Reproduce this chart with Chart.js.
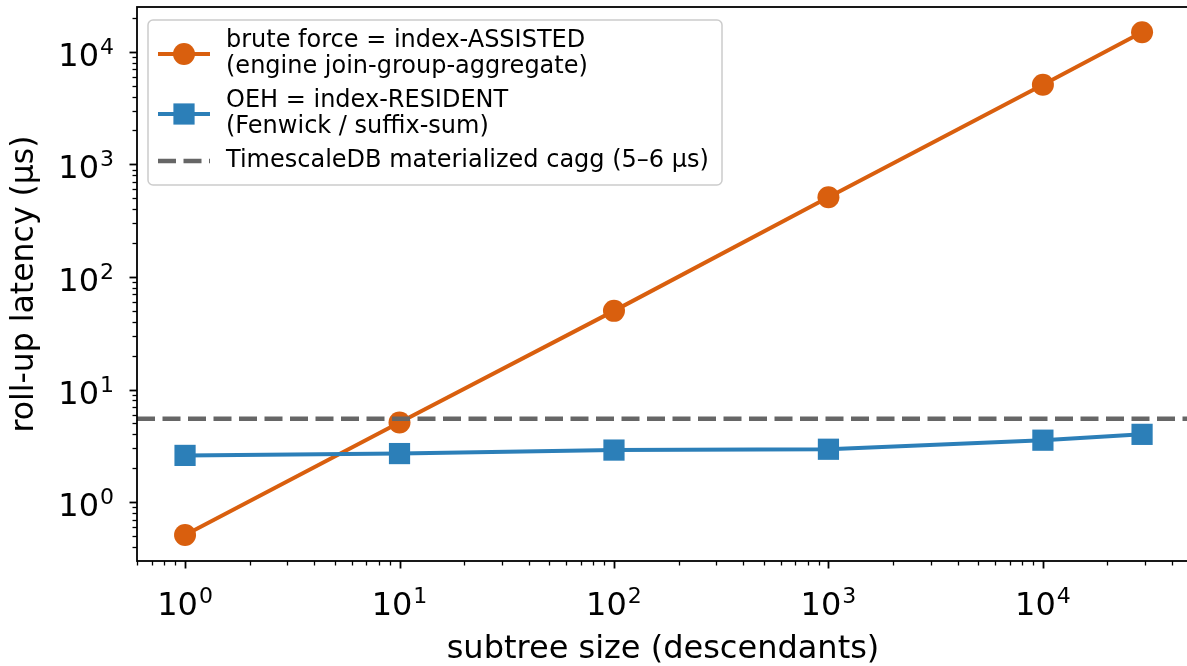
<!DOCTYPE html>
<html>
<head>
<meta charset="utf-8">
<title>roll-up latency vs subtree size</title>
<script src="https://cdn.jsdelivr.net/npm/chart.js@4.4.1/dist/chart.umd.min.js"></script>
<style>
  html, body { margin: 0; padding: 0; background: #fff; overflow: hidden; }
  #wrap { position: relative; width: 1190px; height: 666px; }
</style>
</head>
<body>
<div id="wrap"><canvas id="latencyChart"></canvas></div>
<script>
const subtreeSizes = [1, 10, 100, 1000, 10000, 29000];
const bruteForceUs = [0.51, 5.1, 50, 510, 5100, 14900];
const oehUs = [2.6, 2.7, 2.9, 2.95, 3.55, 4.0];
const caggUs = 5.5;

const seriesLabels = [
  'brute force = index-ASSISTED\n(engine join-group-aggregate)',
  'OEH = index-RESIDENT\n(Fenwick / suffix-sum)',
  'TimescaleDB materialized cagg (5–6 µs)'
];

// tick labels are 10 with a superscript exponent
const xMajorTicks = [1, 10, 100, 1000, 10000];
const xTickExponents = ['0', '1', '2', '3', '4'];
const yMajorTicks = [1, 10, 100, 1000, 10000];
const yTickExponents = ['0', '1', '2', '3', '4'];
const tickBase = '10';
const minorSteps = [2, 3, 4, 5, 6, 7, 8, 9];

const xMin = 0.597, xMax = 48000;
const yMin = 0.313, yMax = 25000;

const ORANGE = '#d95f0e';
const BLUE = '#2c7fb8';
const GREY = '#666666';
const FONT = "'DejaVu Sans', 'Liberation Sans', sans-serif";

function logTicks(majors, lo, hi) {
  const decades = [majors[0] / 10].concat(majors);
  const ticks = [];
  decades.forEach(function(d) {
    if (majors.includes(d) && d >= lo && d <= hi) ticks.push({ value: d, major: true });
    minorSteps.forEach(function(m) {
      const v = +(d * m).toPrecision(6);
      if (v >= lo && v <= hi) ticks.push({ value: v, major: false });
    });
  });
  return ticks.sort(function(a, b) { return a.value - b.value; });
}

function pairs(xs, ys) {
  return xs.map(function(x, i) { return { x: x, y: ys[i] }; });
}

// writes "10" with a raised exponent; anchor is 'center' or 'right'
function powerLabel(ctx, exp, x, baseline, anchor) {
  ctx.font = '32px ' + FONT;
  const wb = ctx.measureText(tickBase).width;
  ctx.font = '22px ' + FONT;
  const we = ctx.measureText(exp).width;
  const total = wb + 1 + we;
  const start = anchor === 'right' ? x - total : x - total / 2;
  ctx.font = '32px ' + FONT;
  ctx.fillText(tickBase, start, baseline);
  ctx.font = '22px ' + FONT;
  ctx.fillText(exp, start + wb + 1, baseline - 12);
}

// spines, matplotlib-like tick marks and power-of-ten tick labels
const axisFrame = {
  id: 'axisFrame',
  afterDraw(chart) {
    const ctx = chart.ctx;
    const a = chart.chartArea;
    const sx = chart.scales.x, sy = chart.scales.y;
    ctx.save();
    ctx.strokeStyle = '#000';
    logTicks(xMajorTicks, xMin, xMax).forEach(function(t) {
      const px = Math.round(sx.getPixelForValue(t.value)) + 0.5;
      ctx.lineWidth = t.major ? 1.8 : 1.3;
      ctx.beginPath();
      ctx.moveTo(px, a.bottom);
      ctx.lineTo(px, a.bottom + (t.major ? 7.5 : 4.5));
      ctx.stroke();
    });
    logTicks(yMajorTicks, yMin, yMax).forEach(function(t) {
      const py = Math.round(sy.getPixelForValue(t.value)) + 0.5;
      ctx.lineWidth = t.major ? 1.8 : 1.3;
      ctx.beginPath();
      ctx.moveTo(a.left, py);
      ctx.lineTo(a.left - (t.major ? 7.5 : 4.5), py);
      ctx.stroke();
    });
    ctx.lineWidth = 1.8;
    ctx.strokeRect(a.left, a.top, a.right - a.left, a.bottom - a.top);

    ctx.fillStyle = '#000';
    ctx.textBaseline = 'alphabetic';
    ctx.textAlign = 'left';
    xMajorTicks.forEach(function(v, i) {
      powerLabel(ctx, xTickExponents[i], sx.getPixelForValue(v), a.bottom + 54, 'center');
    });
    yMajorTicks.forEach(function(v, i) {
      powerLabel(ctx, yTickExponents[i], a.left - 23, sy.getPixelForValue(v) + 14, 'right');
    });
    ctx.restore();
  }
};

// legend box in the upper left of the plot
const legendBox = {
  id: 'legendBox',
  afterDraw(chart) {
    const ctx = chart.ctx;
    ctx.save();
    ctx.beginPath();
    ctx.roundRect(148, 20, 574, 165, 5);
    ctx.fillStyle = 'rgba(255,255,255,0.8)';
    ctx.fill();
    ctx.strokeStyle = '#cccccc';
    ctx.lineWidth = 1.5;
    ctx.stroke();

    ctx.font = '24px ' + FONT;
    ctx.textBaseline = 'alphabetic';
    ctx.textAlign = 'left';
    let baseline = 47;
    chart.data.datasets.forEach(function(ds) {
      const lines = ds.label.split('\n');
      const first = baseline;
      ctx.fillStyle = '#000';
      lines.forEach(function(ln, i) {
        ctx.fillText(ln, 226, baseline);
        if (i < lines.length - 1) baseline += 26;
      });
      const cy = (first + baseline) / 2 - 6;

      ctx.strokeStyle = ds.borderColor;
      ctx.lineWidth = ds.borderWidth;
      ctx.setLineDash(ds.borderDash || []);
      ctx.beginPath();
      ctx.moveTo(158, cy);
      ctx.lineTo(210, cy);
      ctx.stroke();
      ctx.setLineDash([]);

      if (ds.pointRadius > 0) {
        ctx.fillStyle = ds.backgroundColor;
        ctx.beginPath();
        if (ds.pointStyle === 'rect') {
          const h = ds.pointRadius * Math.SQRT1_2;
          ctx.rect(184 - h, cy - h, 2 * h, 2 * h);
        } else {
          ctx.arc(184, cy, ds.pointRadius, 0, Math.PI * 2);
        }
        ctx.fill();
      }
      baseline += 34;
    });
    ctx.restore();
  }
};

const ctx = document.getElementById('latencyChart').getContext('2d');

new Chart(ctx, {
  type: 'line',
  data: {
    datasets: [{
      label: seriesLabels[0],
      data: pairs(subtreeSizes, bruteForceUs),
      borderColor: ORANGE,
      backgroundColor: ORANGE,
      borderWidth: 4,
      pointStyle: 'circle',
      pointRadius: 11,
      pointBorderWidth: 0,
      pointBackgroundColor: ORANGE,
      tension: 0,
      order: 2
    }, {
      label: seriesLabels[1],
      data: pairs(subtreeSizes, oehUs),
      borderColor: BLUE,
      backgroundColor: BLUE,
      borderWidth: 4,
      pointStyle: 'rect',
      pointRadius: 15,
      pointBorderWidth: 0,
      pointBackgroundColor: BLUE,
      tension: 0,
      order: 1
    }, {
      label: seriesLabels[2],
      data: [{ x: xMin, y: caggUs }, { x: xMax, y: caggUs }],
      borderColor: GREY,
      backgroundColor: GREY,
      borderWidth: 4.5,
      borderDash: [18, 7.5],
      pointRadius: 0,
      order: 0
    }]
  },
  options: {
    responsive: true,
    maintainAspectRatio: false,
    animation: false,
    layout: { autoPadding: false, padding: { top: 7, right: 1, left: 0, bottom: 0 } },
    plugins: {
      legend: { display: false },
      tooltip: { enabled: false }
    },
    scales: {
      x: {
        type: 'logarithmic',
        min: xMin,
        max: xMax,
        afterFit: function(scale) {
          scale.height = 105;
          scale.paddingLeft = 0;
          scale.paddingRight = 0;
        },
        grid: { display: false, drawTicks: false },
        border: { display: false },
        ticks: { display: false },
        title: {
          display: true,
          text: 'subtree size (descendants)',
          color: '#000',
          font: { family: FONT, size: 32, lineHeight: 1 },
          padding: { top: 0, bottom: 0 }
        }
      },
      y: {
        type: 'logarithmic',
        min: yMin,
        max: yMax,
        afterFit: function(scale) {
          scale.width = 137;
          scale.paddingTop = 0;
          scale.paddingBottom = 0;
        },
        grid: { display: false, drawTicks: false },
        border: { display: false },
        ticks: { display: false },
        title: {
          display: true,
          text: 'roll-up latency (µs)',
          color: '#000',
          font: { family: FONT, size: 31.5, lineHeight: 1 },
          padding: { top: 9, bottom: 0 }
        }
      }
    }
  },
  plugins: [axisFrame, legendBox]
});
</script>
</body>
</html>
